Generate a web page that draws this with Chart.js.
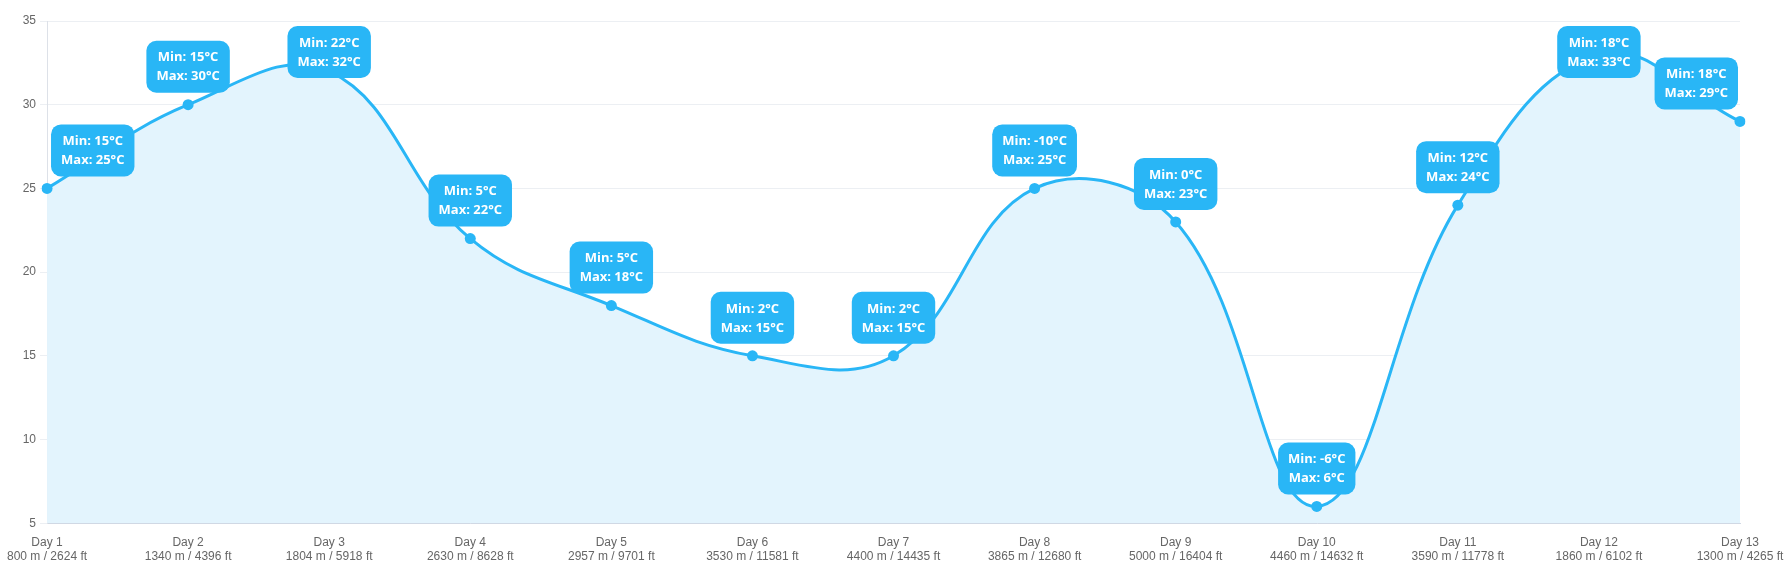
<!DOCTYPE html>
<html>
<head>
<meta charset="utf-8">
<script src="https://cdn.jsdelivr.net/npm/chart.js@4"></script>
<style>
  html, body { margin: 0; padding: 0; background: #fff; }
  #wrap { width: 1787px; height: 583px; }
</style>
</head>
<body>
<div id="wrap"><canvas id="chart"></canvas></div>
<script>
const DAYS = ["Day 1", "Day 2", "Day 3", "Day 4", "Day 5", "Day 6", "Day 7",
  "Day 8", "Day 9", "Day 10", "Day 11", "Day 12", "Day 13"];
const ELEV_M = [800, 1340, 1804, 2630, 2957, 3530, 4400, 3865, 5000, 4460, 3590, 1860, 1300];
const ELEV_FT = [2624, 4396, 5918, 8628, 9701, 11581, 14435, 12680, 16404, 14632, 11778, 6102, 4265];
const MAX_TEMP = [25, 30, 32, 22, 18, 15, 15, 25, 23, 6, 24, 33, 29];
const MIN_TEMP = [15, 15, 22, 5, 5, 2, 2, -10, 0, -6, 12, 18, 18];

const BLUE = "#29b6f6";

const labels = DAYS.map((d, i) => [d, ELEV_M[i] + " m / " + ELEV_FT[i] + " ft"]);

// draws the Min/Max bubbles above every point, kept inside the chart area
const tempLabels = {
  id: "tempLabels",
  afterDatasetsDraw(chart) {
    const ctx = chart.ctx;
    const area = chart.chartArea;
    const meta = chart.getDatasetMeta(0);
    ctx.save();
    ctx.font = "bold 13px 'Open Sans', sans-serif";
    meta.data.forEach((pt, i) => {
      const l1 = "Min: " + MIN_TEMP[i] + "°C";
      const l2 = "Max: " + MAX_TEMP[i] + "°C";
      const w = Math.max(ctx.measureText(l1).width, ctx.measureText(l2).width) + 20;
      const h = 52;
      let x = pt.x - w / 2;
      let y = pt.y - 12 - h;
      if (x < area.left + 4) x = area.left + 4;
      if (x + w > area.right - 2) x = area.right - 2 - w;
      if (y < area.top + 5) y = area.top + 5;
      ctx.fillStyle = BLUE;
      ctx.beginPath();
      ctx.roundRect(x, y, w, h, 10);
      ctx.fill();
      ctx.fillStyle = "#fff";
      ctx.textAlign = "center";
      ctx.textBaseline = "middle";
      ctx.fillText(l1, x + w / 2, y + 17);
      ctx.fillText(l2, x + w / 2, y + 36);
    });
    ctx.restore();
  }
};

new Chart(document.getElementById("chart"), {
  type: "line",
  data: {
    labels,
    datasets: [
      {
        data: MAX_TEMP,
        borderColor: BLUE,
        backgroundColor: "#e3f4fd",
        fill: "start",
        borderWidth: 3,
        tension: 0.4,
        pointRadius: 5.5,
        pointBackgroundColor: BLUE,
        pointBorderWidth: 0,
      },
    ],
  },
  options: {
    responsive: true,
    maintainAspectRatio: false,
    animation: false,
    layout: { padding: { top: 21, right: 0, bottom: 7, left: 0 } },
    plugins: {
      legend: { display: false },
      tooltip: { enabled: false },
    },
    scales: {
      x: {
        grid: { display: false, drawTicks: false },
        border: { color: "#d0d8e4" },
        ticks: { color: "#666", font: { size: 12 }, padding: 12, maxRotation: 0, autoSkip: false },
        afterFit(scale) {
          scale.paddingLeft = Math.max(scale.paddingLeft - 5, 0);
          scale.paddingRight = 47;
        },
      },
      y: {
        min: 5,
        max: 35,
        ticks: { stepSize: 5, color: "#666", font: { size: 12 }, padding: 4 },
        grid: { color: "#eceff3", tickLength: 7 },
        border: { color: "#dde1e8" },
      },
    },
  },
  plugins: [tempLabels],
});
</script>
</body>
</html>
